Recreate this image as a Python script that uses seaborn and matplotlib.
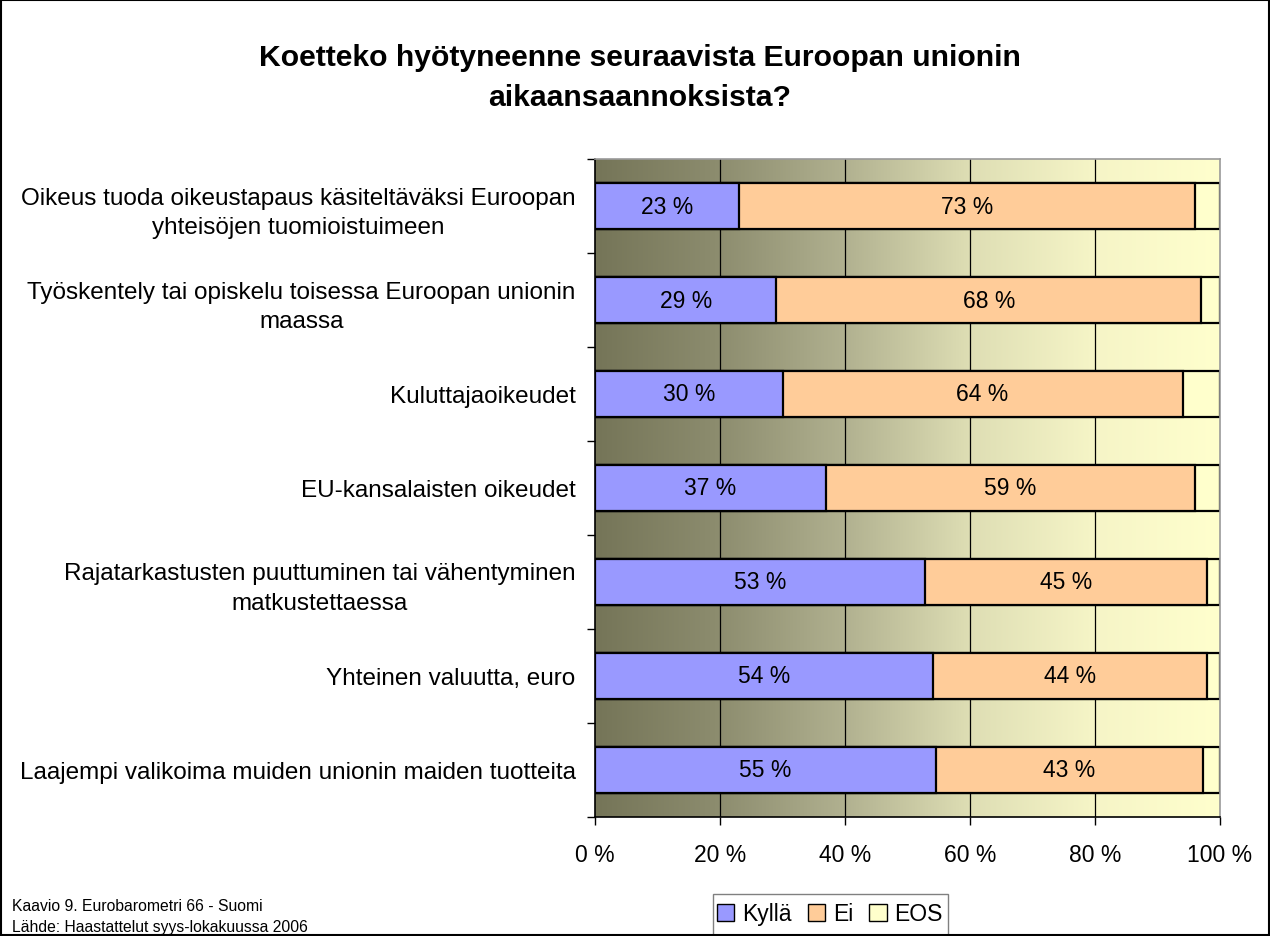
import numpy as np
import pandas as pd
import seaborn as sns
import matplotlib.pyplot as plt
from matplotlib.colors import LinearSegmentedColormap
from matplotlib.patches import Rectangle, Patch

categories = [
    "Oikeus tuoda oikeustapaus käsiteltäväksi Euroopan\nyhteisöjen tuomioistuimeen",
    "Työskentely tai opiskelu toisessa Euroopan unionin\nmaassa",
    "Kuluttajaoikeudet",
    "EU-kansalaisten oikeudet",
    "Rajatarkastusten puuttuminen tai vähentyminen\nmatkustettaessa",
    "Yhteinen valuutta, euro",
    "Laajempi valikoima muiden unionin maiden tuotteita",
]
kylla = [23, 29, 30, 37, 52.8, 54.1, 54.6]
ei = [73, 68, 64, 59, 45.1, 43.8, 42.6]
eos = [4, 3, 6, 4, 2.1, 2.1, 2.8]
series = ["Kyllä", "Ei", "EOS"]
colors = ["#9999FF", "#FFCC99", "#FFFFCC"]
xticks = [0, 20, 40, 60, 80, 100]

df = pd.DataFrame({"cat": categories, "Kyllä": kylla, "Ei": ei, "EOS": eos})
df["c1"] = df["Kyllä"]
df["c2"] = df["Kyllä"] + df["Ei"]
df["c3"] = df["c2"] + df["EOS"]

sns.set_theme(style="white")
plt.rcParams["font.family"] = ["Liberation Sans", "DejaVu Sans"]
plt.rcParams["text.color"] = "black"
plt.rcParams["xtick.labelcolor"] = "black"
plt.rcParams["ytick.labelcolor"] = "black"

FS = 16.5

fig = plt.figure(figsize=(12.7, 9.37), dpi=100)
ax = fig.add_axes([595 / 1270, 1 - 818 / 937, 625 / 1270, 658 / 937])

# gradient background
cmap = LinearSegmentedColormap.from_list(
    "bg", [(0, "#757558"), (0.2, "#8d8d6f"), (0.4, "#b1b190"),
           (0.6, "#dedeb4"), (0.8, "#f6f5c7"), (1, "#ffffcd")])
ax.imshow(np.linspace(0, 1, 256)[None, :], cmap=cmap, aspect="auto",
          extent=[0, 100, 6.5, -0.5], zorder=0)
for x in xticks[1:-1]:
    ax.axvline(x, color="black", lw=0.9, zorder=1)

for col, c in zip(["c3", "c2", "c1"], colors[::-1]):
    sns.barplot(data=df, x=col, y="cat", orient="h", color=c, saturation=1,
                width=0.49, edgecolor="black", linewidth=1.6, ax=ax, zorder=2)

for i, row in df.iterrows():
    ax.text(row["c1"] / 2, i, f"{row['Kyllä']:.0f} %", ha="center", va="center",
            fontsize=FS, zorder=3)
    ax.text(row["c1"] + row["Ei"] / 2, i, f"{row['Ei']:.0f} %", ha="center",
            va="center", fontsize=FS, zorder=3)

ax.set_xlim(0, 100)
ax.set_ylim(6.5, -0.5)
ax.set_xlabel("")
ax.set_ylabel("")
ax.set_xticks(xticks)
ax.set_xticklabels([f"{v} %" for v in xticks], fontsize=FS)
ax.set_yticks(range(len(categories)))
ax.set_yticklabels(categories, fontsize=17.5, linespacing=1.45)
for lab in ax.get_yticklabels():
    lab.set_multialignment("center")
ax.set_yticks(np.arange(-0.5, 6.6, 1), minor=True)
ax.tick_params(axis="y", which="major", length=0, pad=14)
ax.tick_params(axis="y", which="minor", left=True, length=6, width=1, color="black")
ax.tick_params(axis="x", bottom=True, length=6, width=1, color="black", pad=13)
for s in ["top", "right"]:
    ax.spines[s].set_color("#9a9a9a")
for s in ["left", "bottom"]:
    ax.spines[s].set_color("black")
for s in ax.spines.values():
    s.set_linewidth(1.2)

fig.text(640 / 1270, 1 - 78 / 937,
         "Koetteko hyötyneenne seuraavista Euroopan unionin\naikaansaannoksista?",
         ha="center", va="center", fontsize=21.7, fontweight="bold", linespacing=1.55)

fig.text(12 / 1270, 1 - 907 / 937, "Kaavio 9. Eurobarometri 66 - Suomi",
         fontsize=11.3, va="center", ha="left")
fig.text(12 / 1270, 1 - 928 / 937, "Lähde: Haastattelut syys-lokakuussa 2006",
         fontsize=11.3, va="center", ha="left")

# legend: frame drawn separately, it runs off the bottom edge
handles = [Patch(facecolor=c, edgecolor="black", lw=1) for c in colors]
fig.legend(handles, series, loc="center",
           bbox_to_anchor=(830 / 1270, 1 - 915 / 937), ncol=3, fontsize=FS,
           frameon=False, handlelength=0.75, handleheight=0.75,
           handletextpad=0.35, columnspacing=0.7)
fig.patches.append(Rectangle((713 / 1270, -0.01), 235 / 1270, 0.01 + 42 / 937,
                             transform=fig.transFigure, fill=False,
                             edgecolor="#808080", lw=1))

fig.patches.append(Rectangle((0.001, 0.001), 0.998, 0.998, transform=fig.transFigure,
                             fill=False, edgecolor="black", lw=1.5))

fig.savefig("out.png", dpi=100)
